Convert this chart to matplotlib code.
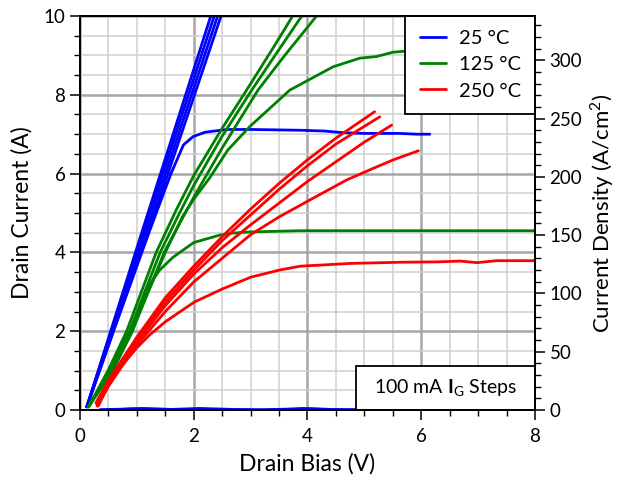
import numpy as np
import matplotlib
matplotlib.use("Agg")
import matplotlib.pyplot as plt
from matplotlib.ticker import MultipleLocator
from matplotlib.patches import Rectangle

plt.rcParams['font.family'] = ['Lato', 'DejaVu Sans']
plt.rcParams['mathtext.fontset'] = 'custom'
plt.rcParams['mathtext.rm'] = 'Lato'
plt.rcParams['mathtext.bf'] = 'Lato:bold'

# ---- data (Drain Bias V, Drain Current A) ----
# 25 C
b1_x = [0.12, 1.05, 2.30]; b1_y = [0.08, 4.34, 10.0]
b2_x = [0.12, 1.08, 2.36]; b2_y = [0.08, 4.34, 10.0]
b3_x = [0.12, 1.12, 2.42]; b3_y = [0.08, 4.34, 10.0]
b4_x = [0.12, 1.16, 2.48]; b4_y = [0.08, 4.34, 10.0]
b5_x = [0.12, 0.6, 1.23, 1.6, 1.82, 1.99, 2.2, 2.58, 2.99, 3.87, 4.3, 4.62, 5.0, 5.62, 5.92, 6.15]
b5_y = [0.08, 2.05, 4.57, 6.0, 6.73, 6.94, 7.05, 7.12, 7.12, 7.1, 7.08, 7.04, 7.02, 7.02, 7.0, 7.0]
b0_x = [0.35, 0.7, 0.9, 1.1, 1.35, 1.6, 1.9, 2.1, 2.35, 2.7, 3.2, 3.6, 3.9, 4.1, 4.4, 5.0, 5.6, 6.2, 6.5]
b0_y = [0.01, 0.02, 0.035, 0.04, 0.03, 0.015, 0.03, 0.04, 0.03, 0.015, 0.01, 0.02, 0.04, 0.035, 0.015, 0.01, 0.01, 0.02, 0.01]

# 125 C
g1_x = [0.15, 0.5, 0.82, 1.08, 1.34, 1.7, 2.0, 2.5, 2.93, 3.4, 3.74]
g1_y = [0.08, 1.02, 2.0, 3.0, 4.0, 5.1, 5.95, 7.15, 8.12, 9.2, 10.0]
g2_x = [0.15, 0.52, 0.87, 1.14, 1.41, 1.75, 2.0, 2.5, 3.02, 3.5, 3.9]
g2_y = [0.08, 1.0, 2.0, 3.0, 4.0, 5.0, 5.7, 6.95, 8.12, 9.15, 10.0]
g3_x = [0.15, 0.55, 0.92, 1.2, 1.48, 2.0, 2.5, 3.13, 3.6, 4.16]
g3_y = [0.08, 1.0, 2.0, 3.0, 4.0, 5.4, 6.65, 8.12, 9.0, 10.0]
g4_x = [0.15, 0.55, 0.9, 1.2, 1.5, 1.8, 2.0, 2.28, 2.6, 2.99, 3.69, 4.45, 4.92, 5.21, 5.5, 5.74, 6.2]
g4_y = [0.08, 1.0, 2.0, 3.0, 4.0, 4.9, 5.35, 5.89, 6.6, 7.2, 8.12, 8.71, 8.93, 8.97, 9.08, 9.11, 9.15]
g5_x = [0.15, 0.58, 0.92, 1.16, 1.4, 1.63, 2.0, 2.46, 2.69, 3.0, 3.87, 5.0, 6.0, 7.0, 8.0]
g5_y = [0.08, 1.0, 2.0, 3.05, 3.55, 3.87, 4.25, 4.44, 4.49, 4.52, 4.55, 4.55, 4.55, 4.55, 4.55]

# 250 C
r1_x = [0.28, 0.5, 1.0, 1.5, 2.0, 2.5, 3.0, 3.5, 4.0, 4.5, 5.18]
r1_y = [0.18, 0.75, 1.85, 2.85, 3.65, 4.4, 5.1, 5.75, 6.35, 6.9, 7.57]
r2_x = [0.3, 0.5, 1.0, 1.5, 2.0, 2.5, 3.0, 3.5, 4.0, 4.5, 5.0, 5.27]
r2_y = [0.14, 0.7, 1.8, 2.75, 3.55, 4.3, 4.95, 5.6, 6.2, 6.75, 7.2, 7.44]
r3_x = [0.3, 0.5, 1.0, 1.5, 2.0, 2.5, 3.0, 3.5, 4.0, 4.5, 5.0, 5.48]
r3_y = [0.12, 0.68, 1.72, 2.65, 3.45, 4.12, 4.7, 5.25, 5.8, 6.3, 6.8, 7.23]
r4_x = [0.32, 0.5, 1.0, 1.5, 2.0, 2.5, 3.0, 3.5, 4.04, 4.69, 5.15, 5.51, 5.95]
r4_y = [0.1, 0.62, 1.65, 2.5, 3.25, 3.85, 4.45, 4.9, 5.33, 5.84, 6.13, 6.35, 6.58]
r5_x = [0.3, 0.5, 0.75, 1.0, 1.22, 1.51, 2.01, 2.5, 3.0, 3.5, 3.87, 4.75, 5.62, 6.3, 6.68, 6.98, 7.33, 8.0]
r5_y = [0.1, 0.6, 1.15, 1.58, 1.9, 2.25, 2.74, 3.07, 3.37, 3.55, 3.65, 3.72, 3.75, 3.76, 3.78, 3.74, 3.79, 3.79]

blue_series = [(b0_x, b0_y), (b1_x, b1_y), (b2_x, b2_y), (b3_x, b3_y), (b4_x, b4_y), (b5_x, b5_y)]
green_series = [(g1_x, g1_y), (g2_x, g2_y), (g3_x, g3_y), (g4_x, g4_y), (g5_x, g5_y)]
red_series = [(r1_x, r1_y), (r2_x, r2_y), (r3_x, r3_y), (r4_x, r4_y), (r5_x, r5_y)]

labels = ['25 °C', '125 °C', '250 °C']
colors = ['#0000ff', '#008000', '#ff0000']
density_per_amp = 33.8   # A/cm^2 per A

fig = plt.figure(figsize=(6.19, 4.83), dpi=100)
ax = fig.add_axes([0.1292, 0.1511, 0.7351, 0.8158])

lw = 2.0
for i, (sx, sy) in enumerate(blue_series):
    ax.plot(sx, sy, color=colors[0], lw=lw, zorder=3, label=labels[0] if i == 1 else None,
            solid_capstyle='round', solid_joinstyle='round')
for i, (sx, sy) in enumerate(green_series):
    ax.plot(sx, sy, color=colors[1], lw=lw, zorder=4, label=labels[1] if i == 0 else None,
            solid_capstyle='round', solid_joinstyle='round')
for i, (sx, sy) in enumerate(red_series):
    ax.plot(sx, sy, color=colors[2], lw=lw, zorder=5, label=labels[2] if i == 0 else None,
            solid_capstyle='round', solid_joinstyle='round')

ax.set_xlim(0, 8)
ax.set_ylim(0, 10)
ax.xaxis.set_major_locator(MultipleLocator(2))
ax.xaxis.set_minor_locator(MultipleLocator(0.5))
ax.yaxis.set_major_locator(MultipleLocator(2))
ax.yaxis.set_minor_locator(MultipleLocator(0.5))
ax.grid(which='minor', color='#cfcfcf', lw=1.1, zorder=0)
ax.grid(which='major', color='#a6a6a6', lw=1.8, zorder=0)
ax.set_axisbelow(True)
ax.tick_params(which='major', direction='out', length=7, width=1.1, labelsize=13.5, colors='black')
ax.tick_params(which='minor', direction='out', length=4.5, width=1.0)
ax.tick_params(axis='x', pad=6)
for sp in ax.spines.values():
    sp.set_color('black')
    sp.set_linewidth(1.3)

ax.set_xlabel('Drain Bias (V)', fontsize=16.5, labelpad=6)
ax.set_ylabel('Drain Current (A)', fontsize=16.5, labelpad=8)

ax2 = ax.twinx()
ax2.set_ylim(0, 10 * density_per_amp)
ax2.yaxis.set_major_locator(MultipleLocator(50))
ax2.yaxis.set_minor_locator(MultipleLocator(10))
ax2.tick_params(which='major', direction='out', length=7, width=1.1, labelsize=13.5)
ax2.tick_params(which='minor', direction='out', length=4.5, width=1.0)
ax2.set_ylabel('Current Density (A/cm$^2$)', fontsize=16, labelpad=4)
for sp in ax2.spines.values():
    sp.set_color('black')
    sp.set_linewidth(1.3)

# annotation box
rect = Rectangle((4.85, 0), 8 - 4.85, 1.12, facecolor='white', edgecolor='black',
                 lw=1.3, zorder=6, clip_on=False)
ax.add_patch(rect)
ax.text((4.85 + 8) / 2, 0.56, r'100 mA $\mathbf{I}_{\mathrm{G}}$ Steps', fontsize=14,
        ha='center', va='center', zorder=7)

leg = ax.legend(loc='upper right', bbox_to_anchor=(1.0, 1.0), borderaxespad=0,
                fontsize=14.5, frameon=True, fancybox=False, framealpha=1,
                edgecolor='black', handlelength=1.3, handletextpad=0.65,
                labelspacing=0.45, borderpad=0.7)
leg.get_frame().set_linewidth(1.3)
leg.set_zorder(10)

fig.savefig('out.png', dpi=100)
